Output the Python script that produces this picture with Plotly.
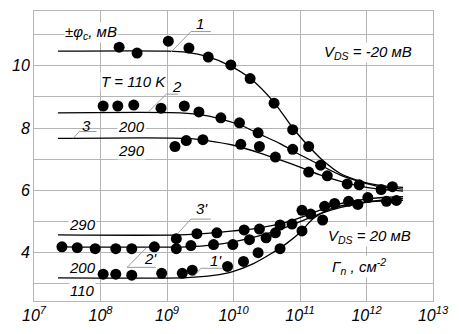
import numpy as np
import plotly.graph_objects as go

# Surface density Gamma_n (log10 of cm^-2) and surface potential phi_c (mV)
# ---- V_DS = -20 mV, measured points ----
c1_lg = [8.28, 8.55, 9.02, 9.33, 9.62, 9.96, 10.25, 10.61, 10.89, 11.13, 12.39]
c1_phi = [10.60, 10.41, 10.79, 10.57, 10.28, 10.03, 9.59, 8.80, 7.95, 7.41, 6.12]
c2_lg = [8.04, 8.26, 8.50, 8.91, 9.26, 9.48, 9.81, 10.09, 10.37, 10.89, 11.31, 11.89]
c2_phi = [8.71, 8.71, 8.74, 8.64, 8.71, 8.52, 8.33, 8.17, 7.85, 7.32, 6.81, 6.18]
c3_lg = [9.12, 9.29, 9.54, 10.11, 10.39, 10.63, 11.13, 11.41, 11.71, 12.22]
c3_phi = [7.41, 7.60, 7.63, 7.48, 7.41, 7.07, 6.59, 6.47, 6.21, 6.03]

# ---- V_DS = +20 mV, measured points ----
p1_lg = [8.04, 8.23, 8.47, 8.92, 9.23, 9.38, 9.91, 10.15, 10.37, 10.70, 11.03, 11.34, 11.87, 12.30]
p1_phi = [3.31, 3.31, 3.28, 3.34, 3.34, 3.44, 3.56, 3.72, 4.00, 4.13, 4.70, 5.05, 5.55, 5.65]
p2_lg = [7.42, 7.65, 7.92, 8.23, 8.47, 8.81, 9.14, 9.36, 9.70, 9.99, 10.24, 10.49, 10.63, 11.16, 11.52, 12.45]
p2_phi = [4.19, 4.16, 4.13, 4.13, 4.13, 4.19, 4.13, 4.23, 4.26, 4.26, 4.42, 4.48, 4.64, 5.24, 5.58, 5.68]
p3_lg = [9.14, 9.45, 9.75, 10.16, 10.39, 10.70, 10.88, 11.03, 11.37, 11.73, 12.02]
p3_phi = [4.45, 4.61, 4.64, 4.73, 4.76, 4.89, 4.92, 5.36, 5.49, 5.65, 5.77]

# ---- calculated curves ----
l1_lg = [7.36, 9.0, 9.3, 9.6, 9.95, 10.25, 10.6, 10.9, 11.13, 11.35, 11.6, 11.9, 12.2, 12.55]
l1_phi = [10.47, 10.47, 10.43, 10.3, 10.0, 9.6, 8.85, 7.98, 7.42, 6.95, 6.55, 6.3, 6.16, 6.1]
l2_lg = [7.36, 9.2, 9.5, 9.8, 10.1, 10.4, 10.7, 10.95, 11.3, 11.6, 11.9, 12.2, 12.55]
l2_phi = [8.49, 8.49, 8.43, 8.3, 8.1, 7.8, 7.5, 7.2, 6.82, 6.5, 6.28, 6.12, 6.04]
l3_lg = [7.36, 9.3, 9.6, 10.0, 10.4, 10.7, 11.0, 11.3, 11.6, 11.9, 12.2, 12.55]
l3_phi = [7.67, 7.67, 7.6, 7.45, 7.2, 6.98, 6.75, 6.5, 6.3, 6.14, 6.04, 5.98]
m1_lg = [7.36, 9.3, 9.7, 10.0, 10.3, 10.55, 10.8, 11.0, 11.2, 11.45, 11.8, 12.2, 12.55]
m1_phi = [3.19, 3.2, 3.27, 3.4, 3.65, 3.95, 4.3, 4.65, 5.1, 5.4, 5.58, 5.66, 5.68]
m2_lg = [7.36, 9.3, 9.7, 10.0, 10.4, 10.7, 11.0, 11.3, 11.6, 12.0, 12.3, 12.55]
m2_phi = [4.19, 4.19, 4.25, 4.35, 4.55, 4.75, 5.0, 5.25, 5.45, 5.62, 5.7, 5.74]
m3_lg = [7.36, 9.2, 9.6, 10.0, 10.4, 10.8, 11.1, 11.4, 11.7, 12.0, 12.3, 12.55]
m3_phi = [4.57, 4.57, 4.62, 4.7, 4.8, 4.98, 5.2, 5.45, 5.62, 5.72, 5.78, 5.8]

x_ticks = [7, 8, 9, 10, 11, 12, 13]
y_ticks = [3, 4, 5, 6, 7, 8, 9, 10, 11]
y_labels = ["", "4", "", "6", "", "8", "", "10", ""]

FONT = "Liberation Sans Narrow, Arial Narrow, Liberation Sans, Arial"
GRID = "#b4b4b4"

fig = go.Figure()

for lg, phi in [(l1_lg, l1_phi), (l2_lg, l2_phi), (l3_lg, l3_phi),
                (m1_lg, m1_phi), (m2_lg, m2_phi), (m3_lg, m3_phi)]:
    fig.add_trace(go.Scatter(x=10 ** np.array(lg), y=phi, mode="lines",
                             line=dict(color="black", width=1.3, shape="spline", smoothing=0.8),
                             hoverinfo="skip"))

for lg, phi in [(c1_lg, c1_phi), (c2_lg, c2_phi), (c3_lg, c3_phi),
                (p1_lg, p1_phi), (p2_lg, p2_phi), (p3_lg, p3_phi)]:
    fig.add_trace(go.Scatter(x=10 ** np.array(lg), y=phi, mode="markers",
                             marker=dict(color="black", size=11, line=dict(width=0))))

# leader lines from curve numbers to curves (positions given as log10 of Gamma_n)
leaders = [
    [(9.36, 11.10), (9.66, 11.10)], [(9.36, 11.10), (9.06, 10.44)],
    [(8.99, 9.09), (9.17, 9.09)], [(8.99, 9.09), (8.72, 8.52)],
    [(7.68, 7.89), (7.94, 7.89)], [(7.68, 7.89), (7.59, 7.67)],
    [(9.36, 5.08), (9.66, 5.08)], [(9.36, 5.08), (9.17, 4.64)],
    [(8.40, 3.53), (8.83, 3.53)], [(8.40, 3.53), (8.69, 4.16)],
    [(9.51, 3.50), (9.84, 3.50)], [(9.51, 3.50), (9.41, 3.25)],
]
for (xa, ya), (xb, yb) in leaders:
    fig.add_shape(type="line", x0=10 ** xa, y0=ya, x1=10 ** xb, y1=yb, xref="x", yref="y",
                  line=dict(color="#9a9a9a", width=1), layer="above")

labels = [
    ("1", 9.50, 11.36, False), ("2", 9.15, 9.34, False), ("3", 7.79, 8.08, False),
    ("3'", 9.52, 5.43, False), ("2'", 8.75, 3.82, False), ("1'", 9.73, 3.75, False),
    ("±φ<sub>c</sub>, мВ", 7.86, 11.08, True),
    ("T = 110 K", 8.50, 9.50, True),
    ("200", 8.47, 8.04, True), ("290", 8.47, 7.29, True),
    ("V<sub>DS</sub> = -20 мВ", 12.02, 10.44, True),
    ("290", 7.73, 4.92, True), ("200", 7.73, 3.53, True), ("110", 7.73, 2.78, True),
    ("V<sub>DS</sub> = 20 мВ", 12.05, 4.51, True),
    ("Γ<sub>n</sub> , см<sup>-2</sup>", 11.89, 3.56, True),
]
for text, xl, yl, boxed in labels:
    fig.add_annotation(x=xl, y=yl, xref="x", yref="y", text=text, showarrow=False,
                       font=dict(family=FONT, size=15, color="black", style="italic"),
                       bgcolor="white" if boxed else "rgba(0,0,0,0)", borderpad=0)

fig.update_layout(
    width=459, height=334,
    margin=dict(l=34, r=21, t=10, b=29),
    paper_bgcolor="white", plot_bgcolor="white",
    showlegend=False,
    xaxis=dict(type="log", range=[7, 13],
               tickvals=[10 ** v for v in x_ticks],
               ticktext=[f"10<sup>{v}</sup>" for v in x_ticks],
               showgrid=True, gridcolor=GRID, gridwidth=1,
               showline=True, linecolor=GRID, linewidth=1, mirror=True,
               ticks="", zeroline=False,
               tickfont=dict(family=FONT, size=16, color="black", style="italic")),
    yaxis=dict(range=[2.45, 11.76], tickvals=y_ticks, ticktext=y_labels,
               showgrid=True, gridcolor=GRID, gridwidth=1,
               showline=True, linecolor=GRID, linewidth=1, mirror=True,
               ticks="", zeroline=False,
               tickfont=dict(family=FONT, size=16, color="black", style="italic")),
)

fig.write_html("out.html")
